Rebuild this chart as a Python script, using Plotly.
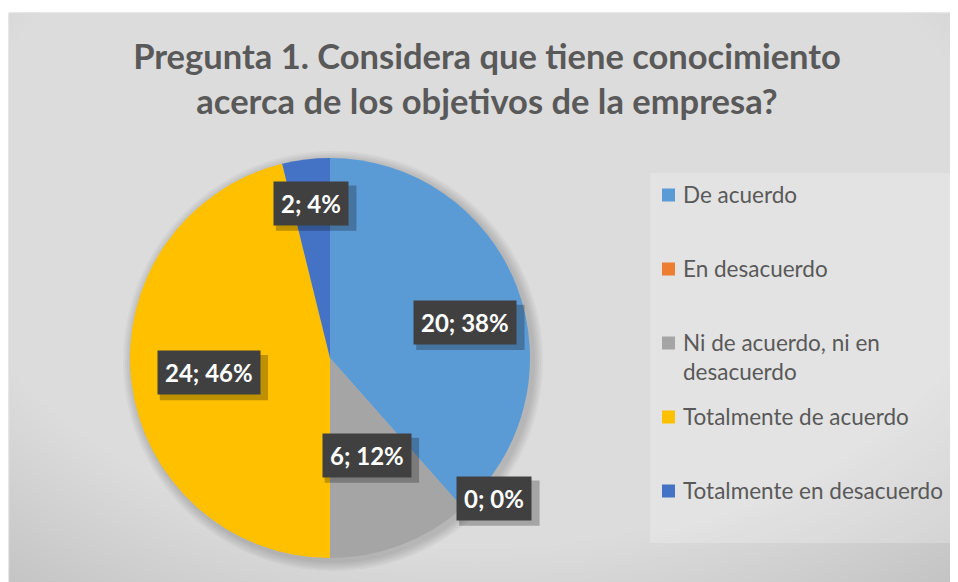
import math
import plotly.graph_objects as go

# datos de la encuesta
categorias = ["De acuerdo", "En desacuerdo", "Ni de acuerdo, ni en desacuerdo",
              "Totalmente de acuerdo", "Totalmente en desacuerdo"]
respuestas = [20, 0, 6, 24, 2]
colores = ["#5B9BD5", "#ED7D31", "#A5A5A5", "#FFC000", "#4472C4"]
leyenda = ["De acuerdo", "En desacuerdo", "Ni de acuerdo, ni en<br>desacuerdo",
           "Totalmente de acuerdo", "Totalmente en desacuerdo"]
titulo = "Pregunta 1. Considera que tiene conocimiento<br>acerca de los objetivos de la empresa?"

W, H = 958, 582
cx, cy, R = 322, 350, 200          # centro y radio del pastel (px)
dom_x = [(cx - R) / W, (cx + R) / W]
dom_y = [1 - (cy + R) / H, 1 - (cy - R) / H]

fig = go.Figure(go.Pie(
    labels=categorias, values=respuestas, sort=False, direction="clockwise", rotation=0,
    marker=dict(colors=colores, line=dict(width=0)),
    textinfo="none", hoverinfo="label+value+percent",
    domain=dict(x=dom_x, y=dom_y), showlegend=False))


def px2x(v):
    return v / W


def px2y(v):
    return 1 - v / H


shapes = [dict(type="rect", xref="paper", yref="paper", x0=px2x(1), x1=1.01, y0=-0.01, y1=px2y(5),
               fillcolor="#c4c4c4", line=dict(color="#cdcdcd", width=1), layer="below")]
# degradado radial aproximado
n = 80
for i in range(n):
    k = 1 - i / n
    rx, ry = 740 * k, 480 * k
    ex, ey = 465, 200
    shapes.append(dict(type="circle", xref="paper", yref="paper",
                       x0=px2x(ex - rx), x1=px2x(ex + rx), y0=px2y(ey + ry), y1=px2y(ey - ry),
                       fillcolor="rgba(255,255,255,0.028)", line=dict(width=0), layer="below"))
# sombra del pastel
for i in range(5):
    rr = R + 10 - i * 2
    shapes.append(dict(type="circle", xref="paper", yref="paper",
                       x0=px2x(cx - rr + 3), x1=px2x(cx + rr + 3), y0=px2y(cy + rr + 3), y1=px2y(cy - rr + 3),
                       fillcolor="rgba(0,0,0,0.035)", line=dict(width=0), layer="below"))
# caja de la leyenda
shapes.append(dict(type="rect", xref="paper", yref="paper", x0=px2x(642), x1=px2x(947),
                   y0=px2y(535), y1=px2y(165), fillcolor="rgba(255,255,255,0.22)",
                   line=dict(width=0), layer="below"))

annotations = []

# leyenda: cuadro de color + texto por categoria
lf = 22.5
y0, paso = 187, 74
for i, (t, c) in enumerate(zip(leyenda, colores)):
    yc = y0 + paso * i
    shapes.append(dict(type="rect", xref="paper", yref="paper",
                       x0=px2x(654), x1=px2x(667), y0=px2y(yc + 6.5), y1=px2y(yc - 6.5),
                       fillcolor=c, line=dict(width=0)))
    annotations.append(dict(x=px2x(673), y=px2y(yc - lf * 0.65 - 1), xref="paper", yref="paper",
                            xanchor="left", yanchor="top", align="left", text=t, showarrow=False,
                            font=dict(family="Lato", size=lf, color="#595959")))

# etiquetas de datos: posicion radial y ajuste angular por porcion
factor = [0.70, 1.08, 0.52, 0.61, 0.78]
desvio = [6, -8, 0, 0, 0]
fs = 24
anchos = {"0": 0.58, "1": 0.58, "2": 0.58, "3": 0.58, "4": 0.58, "5": 0.58, "6": 0.58,
          "7": 0.58, "8": 0.58, "9": 0.58, ";": 0.27, " ": 0.25, "%": 0.84}
total = sum(respuestas)
acum = 0
for v, f, d in zip(respuestas, factor, desvio):
    ang = 2 * math.pi * (acum + v / 2) / total + math.radians(d)
    acum += v
    px = cx + f * R * math.sin(ang)
    py = cy - f * R * math.cos(ang)
    etiqueta = "%d; %d%%" % (v, round(100 * v / total))
    # sombra de la caja
    bw = sum(anchos[c] for c in etiqueta) * fs + 20
    bh = fs * 1.3 + 14
    shapes.append(dict(type="rect", xref="paper", yref="paper",
                       x0=px2x(px - bw / 2 + 5), x1=px2x(px + bw / 2 + 5),
                       y0=px2y(py + bh / 2 + 5), y1=px2y(py - bh / 2 + 5),
                       fillcolor="rgba(0,0,0,0.25)", line=dict(width=0)))
    annotations.append(dict(x=px2x(px), y=px2y(py), xref="paper", yref="paper",
                            xanchor="center", yanchor="middle", text="<b>" + etiqueta + "</b>",
                            showarrow=False, borderpad=7, bgcolor="#404040",
                            font=dict(family="Lato", size=fs, color="white")))

fig.update_layout(
    width=W, height=H, margin=dict(l=0, r=0, t=0, b=0),
    paper_bgcolor="white", plot_bgcolor="rgba(0,0,0,0)",
    title=dict(text="<b>" + titulo + "</b>", x=0.5, xanchor="center", y=px2y(61), yanchor="middle",
               font=dict(family="Lato", size=34.5, color="#595959")),
    shapes=shapes, annotations=annotations)

fig.write_html("out.html")
